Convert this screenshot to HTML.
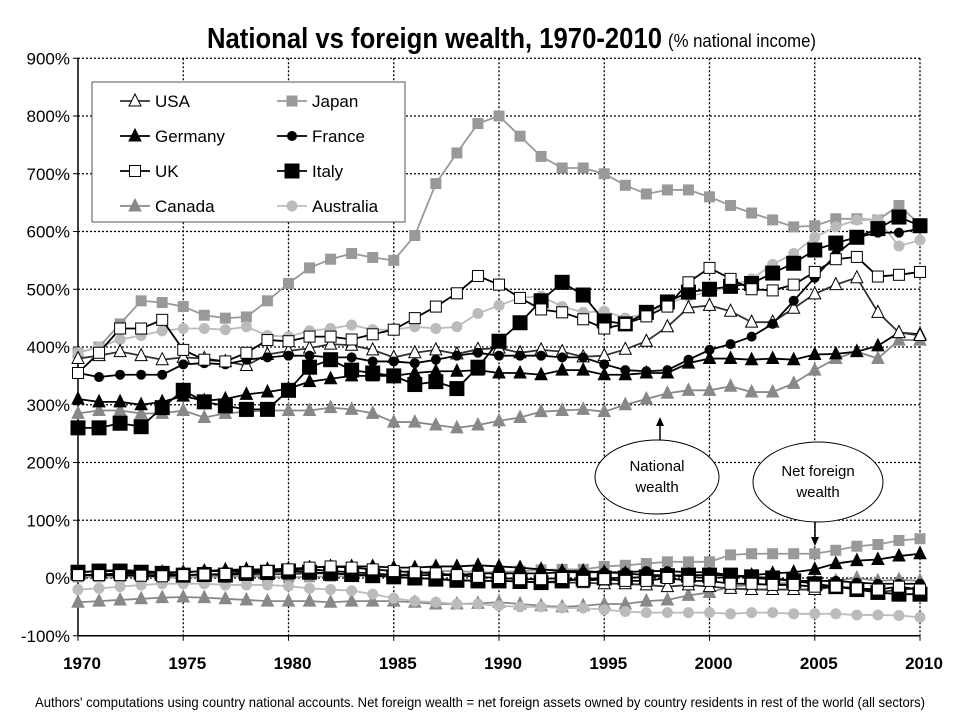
<!DOCTYPE html>
<html><head><meta charset="utf-8"><style>
body{margin:0;background:#fff;}
svg{display:block;font-family:"Liberation Sans",sans-serif;}
</style></head><body>
<svg id="chart" width="960" height="720" viewBox="0 0 960 720">
<text x="207" y="48" font-size="29" font-weight="bold" textLength="455" lengthAdjust="spacingAndGlyphs">National vs foreign wealth, 1970-2010</text>
<text x="668" y="47" font-size="18" textLength="148" lengthAdjust="spacingAndGlyphs">(% national income)</text>
<g id="grid"></g>
<g id="series"></g>
<g>
<rect x="92" y="82" width="313" height="140" fill="#fff" stroke="#555" stroke-width="1"/>
<g id="legend"></g>
</g>
<g>
<line x1="660" y1="440" x2="660" y2="424" stroke="#000" stroke-width="1.5"/>
<polygon points="660,417 656,426 664,426" fill="#000"/>
<ellipse cx="657" cy="477" rx="62" ry="37" fill="#fff" stroke="#000"/>
<text x="657" y="471" font-size="15" text-anchor="middle">National</text>
<text x="657" y="492" font-size="15" text-anchor="middle">wealth</text>
</g>
<g>
<ellipse cx="818" cy="482" rx="65" ry="40" fill="#fff" stroke="#000"/>
<text x="818" y="476" font-size="15" text-anchor="middle">Net foreign</text>
<text x="818" y="497" font-size="15" text-anchor="middle">wealth</text>
<line x1="815" y1="522" x2="815" y2="538" stroke="#000" stroke-width="1.5"/>
<polygon points="815,546 811,537 819,537" fill="#000"/>
</g>
<text x="35" y="707" font-size="14" textLength="890" lengthAdjust="spacingAndGlyphs">Authors' computations using country national accounts. Net foreign wealth = net foreign assets owned by country residents in rest of the world (all sectors)</text>
</svg>
<script>
const years=[];for(let y=1970;y<=2010;y++)years.push(y);
const yTicks=[900,800,700,600,500,400,300,200,100,0,-100];
const xTicks=[1970,1975,1980,1985,1990,1995,2000,2005,2010];
const japan=[390,400,440,480,477,470,455,450,452,480,510,537,552,562,555,550,593,683,736,787,800,765,730,710,710,700,680,665,672,672,660,645,632,620,608,610,622,622,620,645,612];
const usa=[380,385,392,385,378,382,380,375,368,387,393,398,405,403,395,382,390,395,388,396,398,390,395,392,383,385,396,410,435,468,472,462,443,443,467,492,508,520,460,425,420];
const uk=[355,390,432,432,447,395,378,375,390,412,410,418,418,413,422,430,450,470,493,523,508,485,465,460,448,432,440,453,470,512,537,518,500,498,508,530,552,556,522,525,530];
const france=[355,348,352,352,352,370,372,370,378,382,385,385,382,382,375,375,372,378,385,390,385,385,385,382,382,370,360,358,360,378,395,405,418,440,480,520,560,590,598,598,605];
const germany=[310,305,305,300,305,315,307,310,318,322,328,340,345,350,350,350,355,358,358,360,355,355,352,360,360,352,352,355,355,372,380,380,378,380,378,387,388,392,402,425,422];
const italy=[260,260,268,262,295,325,305,298,292,292,325,365,378,360,355,350,335,340,328,365,410,442,480,512,490,445,440,460,478,495,500,505,510,528,545,568,580,590,605,625,610];
const canada=[285,290,290,285,285,290,278,285,288,290,290,290,295,292,285,270,270,265,260,265,272,278,288,290,292,288,300,310,320,325,325,332,322,322,337,360,380,392,380,412,412];
const australia=[390,400,413,420,428,432,432,430,435,420,418,428,432,438,430,430,435,432,435,458,472,485,488,470,460,462,450,458,475,488,495,505,518,543,562,590,608,620,620,575,585];
const japanNfa=[2,2,2,3,1,1,2,2,3,2,1,2,3,3,4,5,8,12,12,10,10,12,14,15,15,20,22,25,28,28,28,40,42,42,42,42,48,55,58,65,68];
const usaNfa=[5,5,5,6,5,5,6,6,6,6,7,8,8,6,4,2,0,-2,-4,-5,-5,-6,-7,-8,-8,-10,-10,-12,-15,-12,-15,-18,-20,-20,-20,-20,-15,-18,-25,-20,-18];
const ukNfa=[5,5,5,4,3,5,6,7,10,12,15,18,20,18,15,12,10,8,5,2,0,-2,-2,0,-5,-2,-5,-5,0,-5,-5,-10,-10,-12,-12,-15,-15,-18,-20,-15,-20];
const franceNfa=[10,12,14,12,10,10,12,12,12,14,14,15,12,10,8,5,5,5,5,8,8,8,8,10,10,10,10,12,12,10,10,5,0,-2,-5,-5,-5,-8,-10,-10,-10];
const germanyNfa=[5,6,8,8,10,10,12,14,15,15,16,18,20,20,20,18,18,20,20,22,20,18,15,12,12,10,8,5,5,2,0,2,5,8,10,15,25,30,32,38,42];
const italyNfa=[10,12,12,10,8,5,6,5,8,10,12,10,8,6,4,2,0,-2,-4,-5,-5,-6,-8,-5,-2,0,0,2,4,5,5,5,2,0,-5,-10,-15,-20,-25,-28,-28];
const canadaNfa=[-42,-40,-38,-36,-34,-33,-34,-36,-38,-40,-40,-40,-42,-40,-40,-40,-42,-45,-45,-44,-42,-45,-48,-50,-48,-45,-45,-40,-38,-30,-25,-15,-12,-10,-8,-5,-5,0,-5,-3,-5];
const australiaNfa=[-20,-18,-15,-12,-10,-10,-10,-12,-12,-12,-14,-18,-20,-22,-28,-35,-40,-42,-45,-45,-48,-50,-50,-52,-52,-55,-58,-60,-60,-60,-60,-62,-60,-60,-62,-62,-62,-64,-64,-65,-68];

const X=y=>78+(y-1970)*21.05;
const Y=v=>578-v*0.5775;
const NS="http://www.w3.org/2000/svg";
function mk(tag,attrs,parent){const e=document.createElementNS(NS,tag);for(const k in attrs)e.setAttribute(k,attrs[k]);parent.appendChild(e);return e;}
const grid=document.getElementById('grid');
for(const t of yTicks){
  if(t!==-100){const l=mk('line',{x1:X(1970),x2:X(2010),y1:Y(t),y2:Y(t),stroke:'#000','stroke-width':1.3,'stroke-dasharray':'2,2'},grid);
  
  }
  const tx=mk('text',{x:70,y:Y(t)+6,'font-size':17,'text-anchor':'end'},grid);tx.textContent=t+'%';
  
  
}
for(const t of xTicks){
  if(t!==1970){const l=mk('line',{x1:X(t),x2:X(t),y1:Y(900),y2:Y(-100),stroke:'#000','stroke-width':1.3,'stroke-dasharray':'2,2'},grid);
  
  }
  const tx=mk('text',{x:X(t)+4,y:669,'font-size':17,'font-weight':'bold','text-anchor':'middle'},grid);tx.textContent=t;
  
  
}
mk('line',{x1:X(1970),x2:X(1970),y1:Y(900),y2:Y(-100),stroke:'#000','stroke-width':1.5},grid);
mk('line',{x1:X(1970),x2:X(2010),y1:Y(-100),y2:Y(-100),stroke:'#000','stroke-width':1.5},grid);
for(const t of yTicks)mk('line',{x1:X(1970)-5,x2:X(1970),y1:Y(t),y2:Y(t),stroke:'#000'},grid);
for(const t of xTicks)mk('line',{x1:X(t),x2:X(t),y1:Y(-100),y2:Y(-100)+5,stroke:'#000'},grid);

const styles={
 japan:{name:'Japan',line:'#999',fill:'#999',stroke:'#999',shape:'square',size:5},
 usa:{name:'USA',line:'#333',fill:'#fff',stroke:'#000',shape:'tri',size:6},
 germany:{name:'Germany',line:'#000',fill:'#000',stroke:'#000',shape:'tri',size:6},
 france:{name:'France',line:'#000',fill:'#000',stroke:'#000',shape:'circle',size:4.5},
 uk:{name:'UK',line:'#000',fill:'#fff',stroke:'#000',shape:'square',size:5.5},
 italy:{name:'Italy',line:'#000',fill:'#000',stroke:'#000',shape:'square',size:7},
 canada:{name:'Canada',line:'#888',fill:'#888',stroke:'#888',shape:'tri',size:6},
 australia:{name:'Australia',line:'#bbb',fill:'#bbb',stroke:'#bbb',shape:'circle',size:5}
};
function marker(s,x,y,parent){
  let e;
  if(s.shape==='square')e=mk('rect',{x:x-s.size,y:y-s.size,width:2*s.size,height:2*s.size,fill:s.fill,stroke:s.stroke},parent);
  else if(s.shape==='circle')e=mk('circle',{cx:x,cy:y,r:s.size,fill:s.fill,stroke:s.stroke},parent);
  else e=mk('polygon',{points:`${x},${y-s.size-1} ${x-s.size},${y+s.size-1} ${x+s.size},${y+s.size-1}`,fill:s.fill,stroke:s.stroke},parent);
  return e;
}
const seriesG=document.getElementById('series');
const order=[['canada',canada,canadaNfa],['japan',japan,japanNfa],['australia',australia,australiaNfa],['germany',germany,germanyNfa],['usa',usa,usaNfa],['france',france,franceNfa],['italy',italy,italyNfa],['uk',uk,ukNfa]];
for(const [key,nat,nfa] of order){
  const s=styles[key];
  for(const [arr,kind] of [[nat,'national'],[nfa,'foreign']]){
    const g=mk('g',{},seriesG);
    
    
    const pts=arr.map((v,i)=>X(years[i])+','+Y(v)).join(' ');
    mk('polyline',{points:pts,fill:'none',stroke:s.line,'stroke-width':1.8},g);
    arr.forEach((v,i)=>{const m=marker(s,X(years[i]),Y(v),g);
      
      });
  }
}
const leg=document.getElementById('legend');
const legOrder=[['usa',0,0],['japan',1,0],['germany',0,1],['france',1,1],['uk',0,2],['italy',1,2],['canada',0,3],['australia',1,3]];
for(const [key,c,r] of legOrder){
  const s=styles[key];const x0=c?277:120;const y0=101+r*35;
  const g=mk('g',{},leg);
  
  
  mk('line',{x1:x0,x2:x0+30,y1:y0,y2:y0,stroke:s.line,'stroke-width':1.8},g);
  marker(s,x0+15,y0,g);
  const t=mk('text',{x:x0+35,y:y0+6,'font-size':17},g);t.textContent=s.name;
}
</script>
</body></html>
